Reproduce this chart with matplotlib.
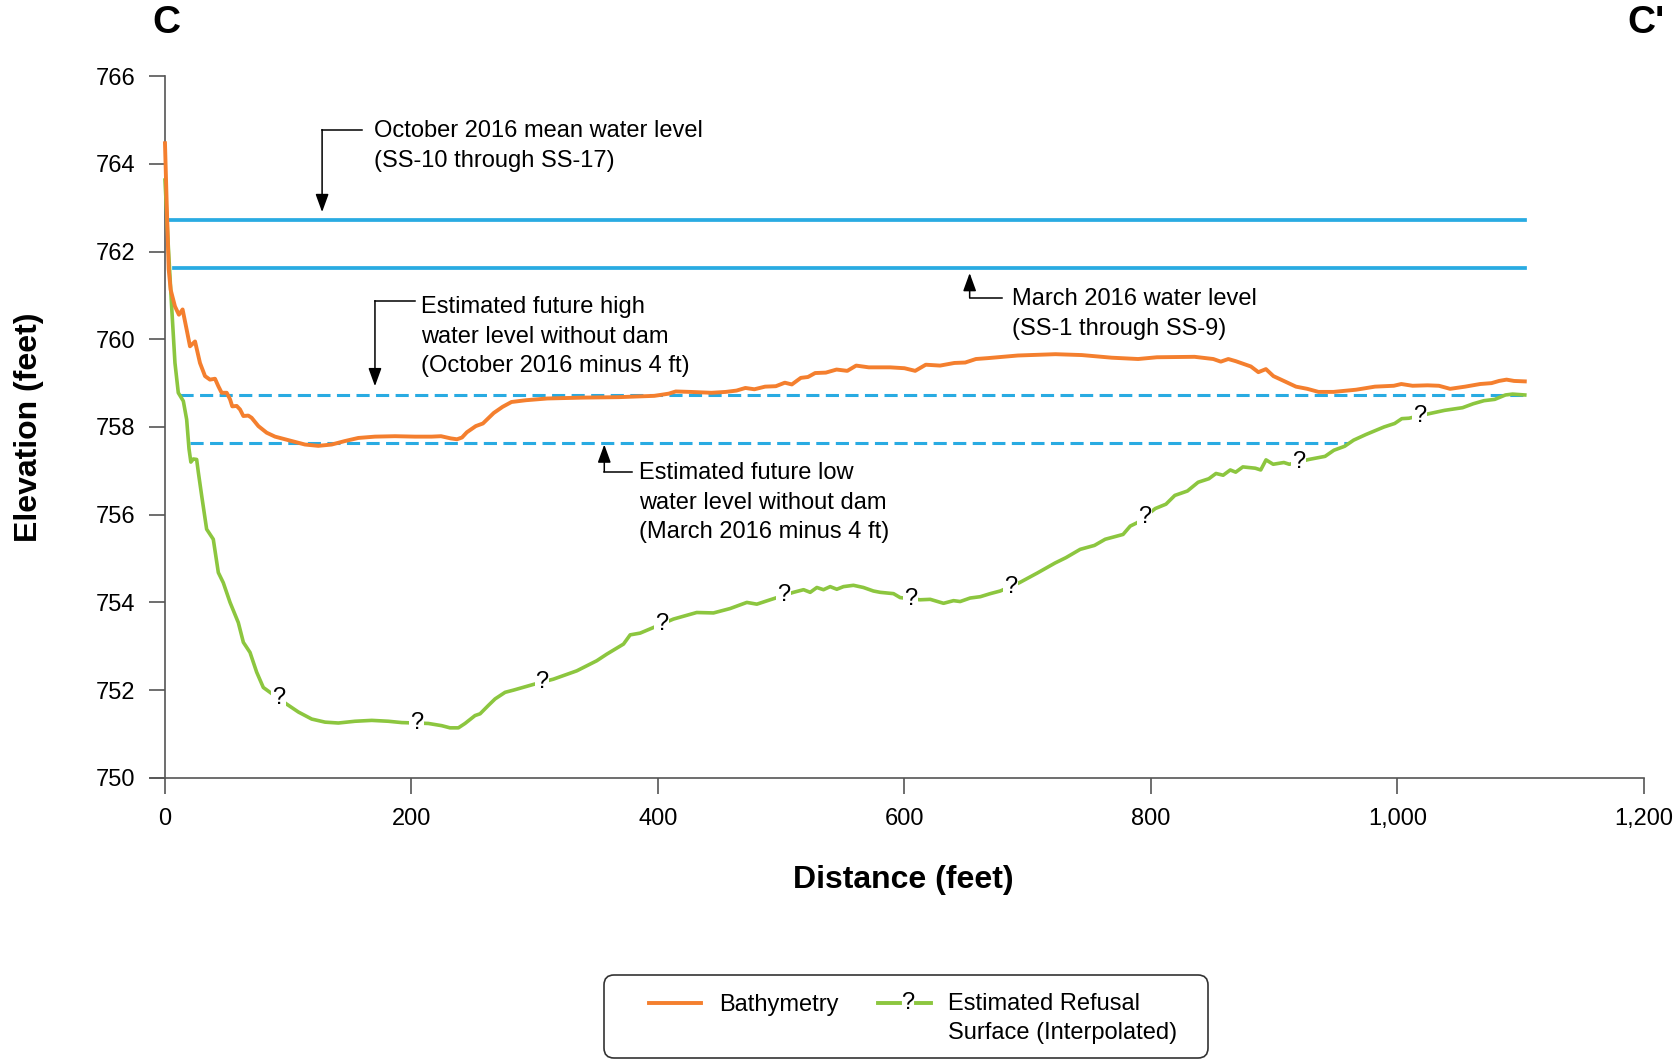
import matplotlib.pyplot as plt
import numpy as np
from matplotlib.lines import Line2D
from matplotlib.patches import FancyBboxPatch
from matplotlib.ticker import FuncFormatter

plt.rcParams['font.family'] = ['Liberation Sans', 'DejaVu Sans']

# bathymetry profile (feet)
bathy_x = [0, 1.5, 3.0, 4.6, 8.1, 11.3, 14.3, 17.6, 20.3, 24.4,
           28.4, 32.5, 36.5, 40.6, 43.3, 46, 50.1, 52.8, 54.6, 58.2,
           60.9, 63.6, 67.6, 70.3, 75.8, 82.5, 89.3, 97.4, 105.5, 113.6,
           124.4, 135.3, 146.1, 156.9, 170.4, 186.7, 202.9, 216.4, 224, 231.9,
           237, 241, 245, 252.2, 258, 266.8, 274, 281.2, 292.8, 310.2,
           339.2, 368.1, 397.1, 408.8, 414.5, 426.1, 443.5, 455.1, 463.8, 471,
           478.3, 487, 495.7, 503, 508.7, 516, 521.8, 527.6, 536.3, 545,
           553.7, 560.9, 571.1, 588.5, 600.1, 608.8, 617.4, 629, 640.6, 649.4,
           658.1, 667.7, 692.1, 722.6, 744, 768.3, 789.7, 805, 835.5, 850.7,
           856.8, 862.9, 869, 881.2, 887.3, 893.4, 899.5, 908.7, 917.8, 927,
           936.1, 948.3, 966.6, 981.9, 997.2, 1003.3, 1012.4, 1024.6, 1033.8, 1042.9,
           1055.1, 1067.3, 1076.5, 1082.6, 1088.7, 1094.8, 1103.5]
bathy_y = [764.47, 763.0, 761.6, 761.13, 760.75, 760.56, 760.68, 760.22, 759.84, 759.95,
           759.46, 759.16, 759.08, 759.1, 758.93, 758.78, 758.78, 758.63, 758.47, 758.48,
           758.4, 758.25, 758.26, 758.21, 758.02, 757.87, 757.78, 757.72, 757.66, 757.6,
           757.57, 757.6, 757.68, 757.75, 757.78, 757.79, 757.78, 757.78, 757.79, 757.74,
           757.72, 757.76, 757.88, 758.02, 758.08, 758.32, 758.46, 758.57, 758.61, 758.65,
           758.67, 758.68, 758.71, 758.76, 758.81, 758.8, 758.78, 758.8, 758.83, 758.89,
           758.86, 758.92, 758.93, 759.01, 758.97, 759.12, 759.14, 759.23, 759.24, 759.31,
           759.28, 759.4, 759.36, 759.36, 759.34, 759.28, 759.42, 759.4, 759.46, 759.47,
           759.55, 759.57, 759.63, 759.66, 759.64, 759.58, 759.55, 759.59, 759.6, 759.55,
           759.49, 759.55, 759.5, 759.38, 759.25, 759.32, 759.16, 759.04, 758.92, 758.87,
           758.8, 758.8, 758.85, 758.92, 758.94, 758.98, 758.94, 758.95, 758.94, 758.87,
           758.92, 758.98, 759.0, 759.05, 759.08, 759.05, 759.04]

# estimated refusal surface (interpolated)
refusal_x = [0, 2.7, 5.4, 8.1, 10.8, 14.9, 17.6, 19.5, 21, 23,
             25.7, 27.1, 29.8, 33.8, 39.2, 43.3, 47.3, 52.8, 59.5, 63.6,
             69, 74.4, 79.8, 85.2, 98.8, 108.3, 119.1, 129.9, 140.7, 154.2,
             167.8, 181.3, 192.1, 213.7, 224.5, 231.3, 238.1, 243.5, 251.6, 255.7,
             262.4, 267.9, 276, 282.8, 299, 315.2, 334.2, 350.4, 358.5, 372.1,
             377.5, 385.6, 396.5, 412.6, 431.5, 445.1, 458.6, 472.2, 480.3, 491.1,
             510, 518.2, 523.6, 529, 534.4, 539.8, 545.2, 550.6, 558.7, 566.8,
             574.9, 580.4, 591.2, 596.6, 612.8, 621, 631.8, 639.9, 645.3, 653.4,
             661.6, 669.7, 677.8, 693.4, 707.9, 722.4, 731.1, 742.7, 754.3, 763,
             777.5, 783.3, 789.1, 803.6, 812.3, 819.5, 829.7, 838.4, 847.1, 852.9,
             858.7, 864.5, 868.9, 874.7, 884.8, 889.2, 893.5, 899.3, 908, 912.4,
             928.3, 941.4, 948.6, 957.3, 964.6, 974.7, 989.2, 997.9, 1003.7, 1009.5,
             1026.9, 1038.5, 1053, 1061.7, 1070.4, 1079.1, 1087.8, 1093.6, 1103.5]
refusal_y = [763.63, 762.12, 760.75, 759.46, 758.78, 758.59, 758.17, 757.5, 757.2, 757.27,
             757.26, 756.96, 756.43, 755.67, 755.44, 754.68, 754.45, 754.0, 753.54, 753.09,
             752.86, 752.41, 752.06, 751.95, 751.68, 751.5, 751.34, 751.27, 751.25, 751.29,
             751.31, 751.29, 751.26, 751.24, 751.19, 751.14, 751.14, 751.24, 751.42, 751.46,
             751.65, 751.8, 751.95, 752.0, 752.13, 752.25, 752.44, 752.67, 752.82, 753.05,
             753.26, 753.3, 753.43, 753.62, 753.77, 753.76, 753.86, 754.0, 753.96, 754.06,
             754.23, 754.29, 754.23, 754.34, 754.29, 754.36, 754.3, 754.36, 754.39, 754.34,
             754.26, 754.23, 754.2, 754.11, 754.06, 754.07, 753.98, 754.04, 754.02, 754.1,
             754.13, 754.2, 754.26, 754.45, 754.67, 754.9, 755.02, 755.21, 755.3, 755.44,
             755.55, 755.74, 755.82, 756.14, 756.24, 756.44, 756.54, 756.74, 756.82, 756.94,
             756.9, 757.02, 756.97, 757.09, 757.06, 757.02, 757.25, 757.15, 757.19, 757.15,
             757.26, 757.33, 757.47, 757.56, 757.7, 757.83, 758.0, 758.08, 758.19, 758.2,
             758.31, 758.38, 758.44, 758.53, 758.6, 758.63, 758.73, 758.75, 758.73]

# where the "?" marks sit along the refusal surface
question_x = [92, 204, 306, 403, 502, 605, 686, 795, 920, 1018]

# water levels: October 2016, March 2016 and both minus 4 ft
level_y = [762.73, 761.63, 758.73, 757.63]
level_start = [4, 7, 12, 20]
level_end = [1103.5, 1103.5, 1103.5, 960]
level_dashed = [False, False, True, True]

x_ticks = [0, 200, 400, 600, 800, 1000, 1200]
y_ticks = [750, 752, 754, 756, 758, 760, 762, 764, 766]

orange = '#F47F2E'
green = '#8CC63F'
blue = '#29ABE2'
axis_grey = '#555555'

fig = plt.figure(figsize=(16.8, 10.59), dpi=100)
ax = fig.add_axes([0.0894, 0.2655, 0.889, 0.6626])

for y, x0, x1, dashed in zip(level_y, level_start, level_end, level_dashed):
    if dashed:
        ax.plot([x0, x1], [y, y], color=blue, lw=2.2, dashes=(4.3, 2.1), zorder=2)
    else:
        ax.plot([x0, x1], [y, y], color=blue, lw=2.7, zorder=2)

ax.plot(bathy_x, bathy_y, color=orange, lw=2.8, zorder=4)
ax.plot(refusal_x, refusal_y, color=green, lw=2.6, zorder=3)

question_y = np.interp(question_x, refusal_x, refusal_y)
for qx, qy in zip(question_x, question_y):
    ax.text(qx, qy, '?', fontsize=17, ha='center', va='center', zorder=5,
            bbox=dict(facecolor='white', edgecolor='none', pad=0.5))


def callout(text, tip, corner, line_end, text_x, last_baseline):
    ax.plot([corner[0], line_end], [corner[1], corner[1]], color='black', lw=1.1, zorder=6)
    ax.annotate('', xy=tip, xytext=corner, zorder=6,
                arrowprops=dict(arrowstyle='-|>,head_length=0.55,head_width=0.2',
                                color='black', lw=1.1, shrinkA=0, shrinkB=0,
                                mutation_scale=20))
    ax.text(text_x, last_baseline, text, fontsize=17, va='baseline', ha='left',
            linespacing=1.44, zorder=6)


callout('October 2016 mean water level\n(SS-10 through SS-17)',
        (127.5, 762.9), (127.5, 764.78), 160, 169.6, 763.93)
callout('Estimated future high\nwater level without dam\n(October 2016 minus 4 ft)',
        (170.4, 758.93), (170.4, 760.88), 203, 208, 759.25)
callout('March 2016 water level\n(SS-1 through SS-9)',
        (653, 761.51), (653, 760.95), 679, 687, 760.10)
callout('Estimated future low\nwater level without dam\n(March 2016 minus 4 ft)',
        (356.5, 757.6), (356.5, 756.98), 379, 385, 755.46)

ax.set_xlim(-12, 1200)
ax.set_ylim(750, 766)
ax.spines['left'].set_position(('data', 0))
ax.spines[['top', 'right']].set_visible(False)
for side in ['left', 'bottom']:
    ax.spines[side].set_color(axis_grey)
    ax.spines[side].set_linewidth(1.2)
ax.set_xticks(x_ticks)
ax.set_yticks(y_ticks)
ax.xaxis.set_major_formatter(FuncFormatter(lambda v, p: f'{v:,.0f}'))
ax.tick_params(direction='out', length=11.5, width=1.2, color=axis_grey,
               labelsize=17, pad=10)

ax.set_xlabel('Distance (feet)', fontsize=23, fontweight='bold')
ax.xaxis.set_label_coords(0.504, -0.1457)
ax.xaxis.label.set_verticalalignment('center')
ax.set_ylabel('Elevation (feet)', fontsize=23, fontweight='bold')
ax.yaxis.set_label_coords(-0.0812, 0.5)
ax.yaxis.label.set_verticalalignment('center')

fig.text(166 / 1680, 1 - 23 / 1059, 'C', fontsize=28, fontweight='bold',
         ha='center', va='center')
fig.text(1646 / 1680, 1 - 23 / 1059, "C'", fontsize=28, fontweight='bold',
         ha='center', va='center')

# legend drawn by hand so the handles line up with the first text line
inch = fig.dpi_scale_trans
box = FancyBboxPatch((6.04, 0.01), 6.04, 0.83, transform=inch,
                     boxstyle='round,pad=0,rounding_size=0.1',
                     facecolor='white', edgecolor='#333333', lw=1.2)
fig.patches.append(box)
fig.lines.append(Line2D([6.49, 7.01], [0.56, 0.56], color=orange, lw=2.8, transform=inch))
fig.text(7.19, 0.475, 'Bathymetry', fontsize=17, transform=inch, va='baseline')
fig.lines.append(Line2D([8.78, 9.0], [0.56, 0.56], color=green, lw=2.8, transform=inch))
fig.lines.append(Line2D([9.16, 9.31], [0.56, 0.56], color=green, lw=2.8, transform=inch))
fig.text(9.08, 0.56, '?', fontsize=17, transform=inch, ha='center', va='center')
fig.text(9.48, 0.195, 'Estimated Refusal\nSurface (Interpolated)', fontsize=17,
         transform=inch, va='baseline', linespacing=1.44)

fig.savefig('out.png', dpi=100)
